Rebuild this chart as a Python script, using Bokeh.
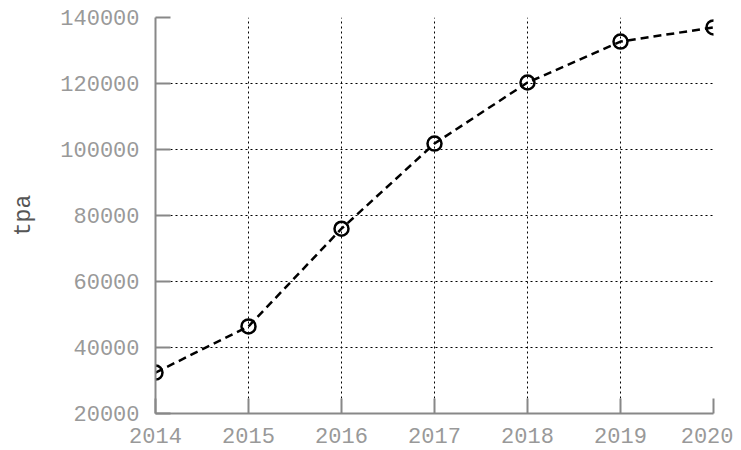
from bokeh.plotting import figure
from bokeh.models import FixedTicker, Range1d, NumeralTickFormatter
from bokeh.embed import file_html
from bokeh.resources import INLINE

years = [2014, 2015, 2016, 2017, 2018, 2019, 2020]
tpa = [32400, 46400, 76000, 101800, 120300, 132700, 137000]
y_ticks = [20000, 40000, 60000, 80000, 100000, 120000, 140000]

FONT = "Liberation Mono"

p = figure(output_backend="svg", toolbar_location=None,
           frame_width=558, frame_height=396,
           min_border_left=155, min_border_top=17, min_border_right=20, min_border_bottom=35,
           x_range=Range1d(2014, 2020), y_range=Range1d(20000, 140000))
p.outline_line_color = None

p.line(years, tpa, line_color="black", line_width=2.5, line_dash="8 5")
p.scatter(years, tpa, size=14, fill_color=None, line_color="black", line_width=2.5)

for ax in (p.xaxis[0], p.yaxis[0]):
    ax.axis_line_color = "#888888"
    ax.axis_line_width = 2
    ax.major_tick_line_color = "#888888"
    ax.major_tick_line_width = 2
    ax.major_tick_in = 15
    ax.major_tick_out = 0
    ax.minor_tick_line_color = None
    ax.major_label_text_font = FONT
    ax.major_label_text_font_size = "22px"
    ax.major_label_text_color = "#999999"

p.xaxis.ticker = FixedTicker(ticks=years)
p.xaxis.formatter = NumeralTickFormatter(format="0")
p.yaxis.ticker = FixedTicker(ticks=y_ticks)
p.yaxis.formatter = NumeralTickFormatter(format="0")
p.xaxis.major_label_standoff = 14
p.yaxis.major_label_standoff = 16
p.yaxis.axis_label = "tpa"
p.yaxis.axis_label_text_font = FONT
p.yaxis.axis_label_text_font_size = "23px"
p.yaxis.axis_label_text_font_style = "normal"
p.yaxis.axis_label_text_color = "#555555"
p.yaxis.axis_label_standoff = 20

for g in (p.xgrid[0], p.ygrid[0]):
    g.grid_line_color = "black"
    g.grid_line_width = 1
    g.grid_line_dash = "2 3"

open("out.html", "w").write(file_html(p, INLINE))
